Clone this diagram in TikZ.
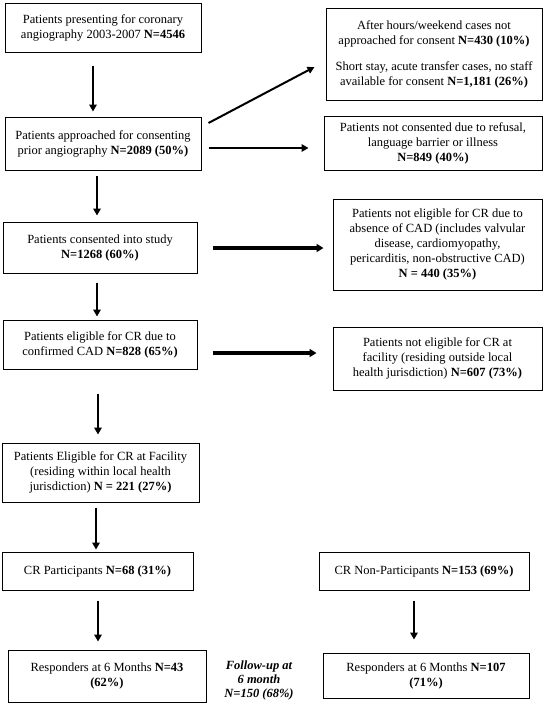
\documentclass[tikz,border=0pt]{standalone}
\usepackage{fontspec}
\setmainfont{Liberation Serif}
\usetikzlibrary{arrows.meta,calc}
\tikzset{
  box/.style={draw, line width=1pt, rectangle, inner sep=0pt, align=center,
    font=\fontsize{12.5}{15}\selectfont},
  arr/.style={line width=2.8pt, -{Triangle[length=7pt,width=7.5pt]}},
  thinarr/.style={line width=2pt, -{Triangle[length=7pt,width=7pt]}},
  thickarr/.style={line width=3.4pt, -{Triangle[length=7pt,width=8pt]}},
  note/.style={align=center, font=\fontsize{12.5}{14}\selectfont\bfseries\itshape}
}
\begin{document}
\begin{tikzpicture}[x=1pt,y=-1pt]
\useasboundingbox (0,0) rectangle (548,707);
% left column
\node[box, minimum width=196pt, minimum height=49pt] (b1) at (103,27.5)
  {Patients presenting for coronary\\angiography 2003-2007 \textbf{N=4546}};
\node[box, minimum width=196pt, minimum height=53pt] (b2) at (103,143.5)
  {Patients approached for consenting\\prior angiography \textbf{N=2089 (50\%)}};
\node[box, minimum width=194pt, minimum height=51pt] (b5) at (100,247.5)
  {Patients consented into study\\\textbf{N=1268 (60\%)}};
\node[box, minimum width=194pt, minimum height=49pt] (b7) at (100,344.5)
  {Patients eligible for CR due to\\confirmed CAD \textbf{N=828 (65\%)}};
\node[box, minimum width=197pt, minimum height=59pt] (b9) at (100.5,472.5)
  {Patients Eligible for CR at Facility\\(residing within local health\\jurisdiction) \textbf{N = 221 (27\%)}};
\node[box, minimum width=191pt, minimum height=38pt] (b10) at (97.5,571)
  {CR Participants \textbf{N=68 (31\%)}};
\node[box, minimum width=198pt, minimum height=52pt] (b12) at (107,676)
  {Responders at 6 Months \textbf{N=43}\\\textbf{(62\%)}};
% right column
\node[box, minimum width=216pt, minimum height=92pt] (b3) at (434,54)
  {After hours/weekend cases not\\approached for consent \textbf{N=430 (10\%)}\\[11pt]Short stay, acute transfer cases, no staff\\available for consent \textbf{N=1,181 (26\%)}};
\node[box, minimum width=218pt, minimum height=54pt] (b4) at (433,143)
  {Patients not consented due to refusal,\\language barrier or illness\\\textbf{N=849 (40\%)}};
\node[box, minimum width=209pt, minimum height=91pt] (b6) at (437.5,244.5)
  {Patients not eligible for CR due to\\absence of CAD (includes valvular\\disease, cardiomyopathy,\\pericarditis, non-obstructive CAD)\\\textbf{N = 440 (35\%)}};
\node[box, minimum width=209pt, minimum height=63pt] (b8) at (437.5,358.5)
  {Patients not eligible for CR at\\facility (residing outside local\\health jurisdiction) \textbf{N=607 (73\%)}};
\node[box, minimum width=210pt, minimum height=38pt] (b11) at (424,571)
  {CR Non-Participants \textbf{N=153 (69\%)}};
\node[box, minimum width=206pt, minimum height=45pt] (b13) at (426,675.5)
  {Responders at 6 Months \textbf{N=107}\\\textbf{(71\%)}};
% note
\node[note] (fu) at (259,680) {Follow-up at\\6 month\\N=150 (68\%)};
% vertical arrows
\draw[arr] ($(b1.south)+(-10,13)$) -- ($(b2.north)+(-10,-5)$);
\draw[arr] ($(b2.south)+(-6,5)$) -- ($(b5.north)+(-3,-6)$);
\draw[arr] ($(b5.south)+(-3,9)$) -- ($(b7.north)+(-3,-3)$);
\draw[arr] ($(b7.south)+(-2,24)$) -- ($(b9.north)+(-2.5,-8)$);
\draw[arr] ($(b9.south)+(-4.5,5)$) -- ($(b10.north)+(-1.5,-2)$);
\draw[arr] ($(b10.south)+(0.5,10)$) -- ($(b12.north)+(-9,-8)$);
\draw[arr] ($(b11.south)+(-10,10)$) -- ($(b13.north)+(-12,-13)$);
% side arrows
\draw[thinarr] ($(b2.east)+(7,-20.5)$) -- ($(b3.west)+(-11,13)$);
\draw[arr] ($(b2.east)+(7,4.5)$) -- ($(b4.west)+(-15,5)$);
\draw[thickarr] ($(b5.east)+(15,0.5)$) -- ($(b6.west)+(-9,3.5)$);
\draw[thickarr] ($(b7.east)+(15,8.5)$) -- ($(b8.west)+(-16,-5.5)$);
\end{tikzpicture}
\end{document}
